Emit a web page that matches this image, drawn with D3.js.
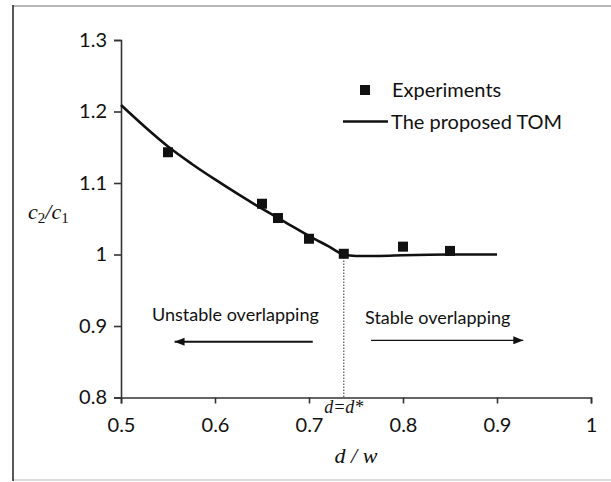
<!DOCTYPE html>
<html>
<head>
<meta charset="utf-8">
<script src="https://cdn.jsdelivr.net/npm/d3@7"></script>
<style>
  body { margin: 0; background: #fff; }
  svg { display: block; }
  .tick text { font-family: Lato, "Open Sans", sans-serif; font-size: 20px; fill: #111; }
  .note { font-family: Lato, "Open Sans", sans-serif; fill: #111; }
  .math { font-family: "Liberation Serif", "DejaVu Serif", serif; font-style: italic; fill: #111; }
</style>
</head>
<body>
<svg id="chart" width="611" height="482"></svg>
<script>
// DATA
var exp_x = [0.55, 0.65, 0.667, 0.70, 0.737, 0.80, 0.85];
var exp_y = [1.143, 1.071, 1.051, 1.022, 1.001, 1.011, 1.005];

var tom_x = [0.5, 0.525, 0.55, 0.575, 0.6, 0.625, 0.65, 0.675, 0.7, 0.72, 0.737, 0.75, 0.775, 0.8, 0.85, 0.9];
var tom_y = [1.209, 1.179, 1.151, 1.127, 1.105, 1.084, 1.064, 1.045, 1.026, 1.012, 1.0, 0.998, 0.998, 0.999, 1.0, 1.0];

var x_ticks = [0.5, 0.6, 0.7, 0.8, 0.9, 1];
var y_ticks = [0.8, 0.9, 1, 1.1, 1.2, 1.3];

var d_star = 0.737;

// SVG
var svg = d3.select("#chart");

// frame around the figure
svg.append("line").attr("x1", 13).attr("y1", 6).attr("x2", 611).attr("y2", 6)
  .attr("stroke", "#b8b8b8").attr("stroke-width", 2);
svg.append("line").attr("x1", 13).attr("y1", 480).attr("x2", 611).attr("y2", 480)
  .attr("stroke", "#d0d0d0").attr("stroke-width", 1.5);
svg.append("line").attr("x1", 13).attr("y1", 5).attr("x2", 13).attr("y2", 481)
  .attr("stroke", "#222").attr("stroke-width", 1.5);

// scales
const xScale = d3.scaleLinear().domain([0.5, 1]).range([121, 591]);
const yScale = d3.scaleLinear().domain([0.8, 1.3]).range([397.5, 40]);

// axes
var xAxis = svg.append("g")
  .attr("transform", "translate(0," + yScale(0.8) + ")")
  .call(d3.axisBottom(xScale).tickValues(x_ticks).tickSize(6).tickPadding(14).tickFormat(d3.format("")));

var yAxis = svg.append("g")
  .attr("transform", "translate(" + xScale(0.5) + ",0)")
  .call(d3.axisLeft(yScale).tickValues(y_ticks).tickSize(7).tickPadding(7).tickFormat(d3.format("")));

[xAxis, yAxis].forEach(a => {
  a.select(".domain").attr("stroke", "#333").attr("stroke-width", 1.6);
  a.selectAll(".tick line").attr("stroke", "#333").attr("stroke-width", 1.6);
  a.attr("font-family", null).attr("font-size", null);
});

// dotted line at d = d*
svg.append("line")
  .attr("x1", xScale(d_star)).attr("x2", xScale(d_star))
  .attr("y1", yScale(1.0)).attr("y2", yScale(0.8))
  .attr("stroke", "#555").attr("stroke-width", 1.2).attr("stroke-dasharray", "1.5,1.5");

// model curve
var line = d3.line()
  .x(d => xScale(d[0]))
  .y(d => yScale(d[1]))
  .curve(d3.curveMonotoneX);

svg.append("path")
  .datum(tom_x.map((x, i) => [x, tom_y[i]]))
  .attr("d", line)
  .attr("fill", "none")
  .attr("stroke", "#111")
  .attr("stroke-width", 2.6);

// experiments
var sq = 10;
svg.selectAll("rect.exp")
  .data(exp_x.map((x, i) => [x, exp_y[i]]))
  .enter().append("rect")
  .attr("class", "exp")
  .attr("x", d => xScale(d[0]) - sq / 2)
  .attr("y", d => yScale(d[1]) - sq / 2)
  .attr("width", sq)
  .attr("height", sq)
  .attr("fill", "#111");

// legend
svg.append("rect").attr("x", 360).attr("y", 85).attr("width", sq).attr("height", sq).attr("fill", "#111");
svg.append("text").attr("class", "note").attr("x", 392).attr("y", 97).attr("font-size", 20).text("Experiments");
svg.append("line").attr("x1", 343).attr("x2", 388).attr("y1", 121.5).attr("y2", 121.5)
  .attr("stroke", "#111").attr("stroke-width", 2.6);
svg.append("text").attr("class", "note").attr("x", 391).attr("y", 129).attr("font-size", 20).text("The proposed TOM");

// region annotations
var defs = svg.append("defs");
defs.append("marker").attr("id", "head").attr("viewBox", "0 0 10 8")
  .attr("refX", 10).attr("refY", 4).attr("markerWidth", 10).attr("markerHeight", 8)
  .attr("markerUnits", "userSpaceOnUse").attr("orient", "auto")
  .append("path").attr("d", "M0,0 L10,4 L0,8 Z").attr("fill", "#111");

svg.append("text").attr("class", "note").attr("x", xScale(0.533)).attr("y", yScale(0.907))
  .attr("font-size", 18).text("Unstable overlapping");
svg.append("line")
  .attr("x1", xScale(0.704)).attr("x2", xScale(0.557))
  .attr("y1", yScale(0.878)).attr("y2", yScale(0.878))
  .attr("stroke", "#111").attr("stroke-width", 2).attr("marker-end", "url(#head)");

svg.append("text").attr("class", "note").attr("x", xScale(0.7596)).attr("y", yScale(0.903))
  .attr("font-size", 18).text("Stable overlapping");
svg.append("line")
  .attr("x1", xScale(0.766)).attr("x2", xScale(0.928))
  .attr("y1", yScale(0.880)).attr("y2", yScale(0.880))
  .attr("stroke", "#111").attr("stroke-width", 1.3).attr("marker-end", "url(#head)");

// axis titles
var ylab = svg.append("text").attr("class", "math").attr("x", 28).attr("y", 219).attr("font-size", 22);
ylab.append("tspan").text("c");
ylab.append("tspan").attr("font-size", 15).attr("dy", 4).attr("font-style", "normal").text("2");
ylab.append("tspan").attr("dy", -4).text("/c");
ylab.append("tspan").attr("font-size", 15).attr("dy", 4).attr("font-style", "normal").text("1");

svg.append("text").attr("class", "math").attr("x", xScale(d_star)).attr("y", 413)
  .attr("text-anchor", "middle").attr("font-size", 18).text("d=d*");

svg.append("text").attr("class", "math").attr("x", 356).attr("y", 463)
  .attr("text-anchor", "middle").attr("font-size", 22).text("d / w");
</script>
</body>
</html>
